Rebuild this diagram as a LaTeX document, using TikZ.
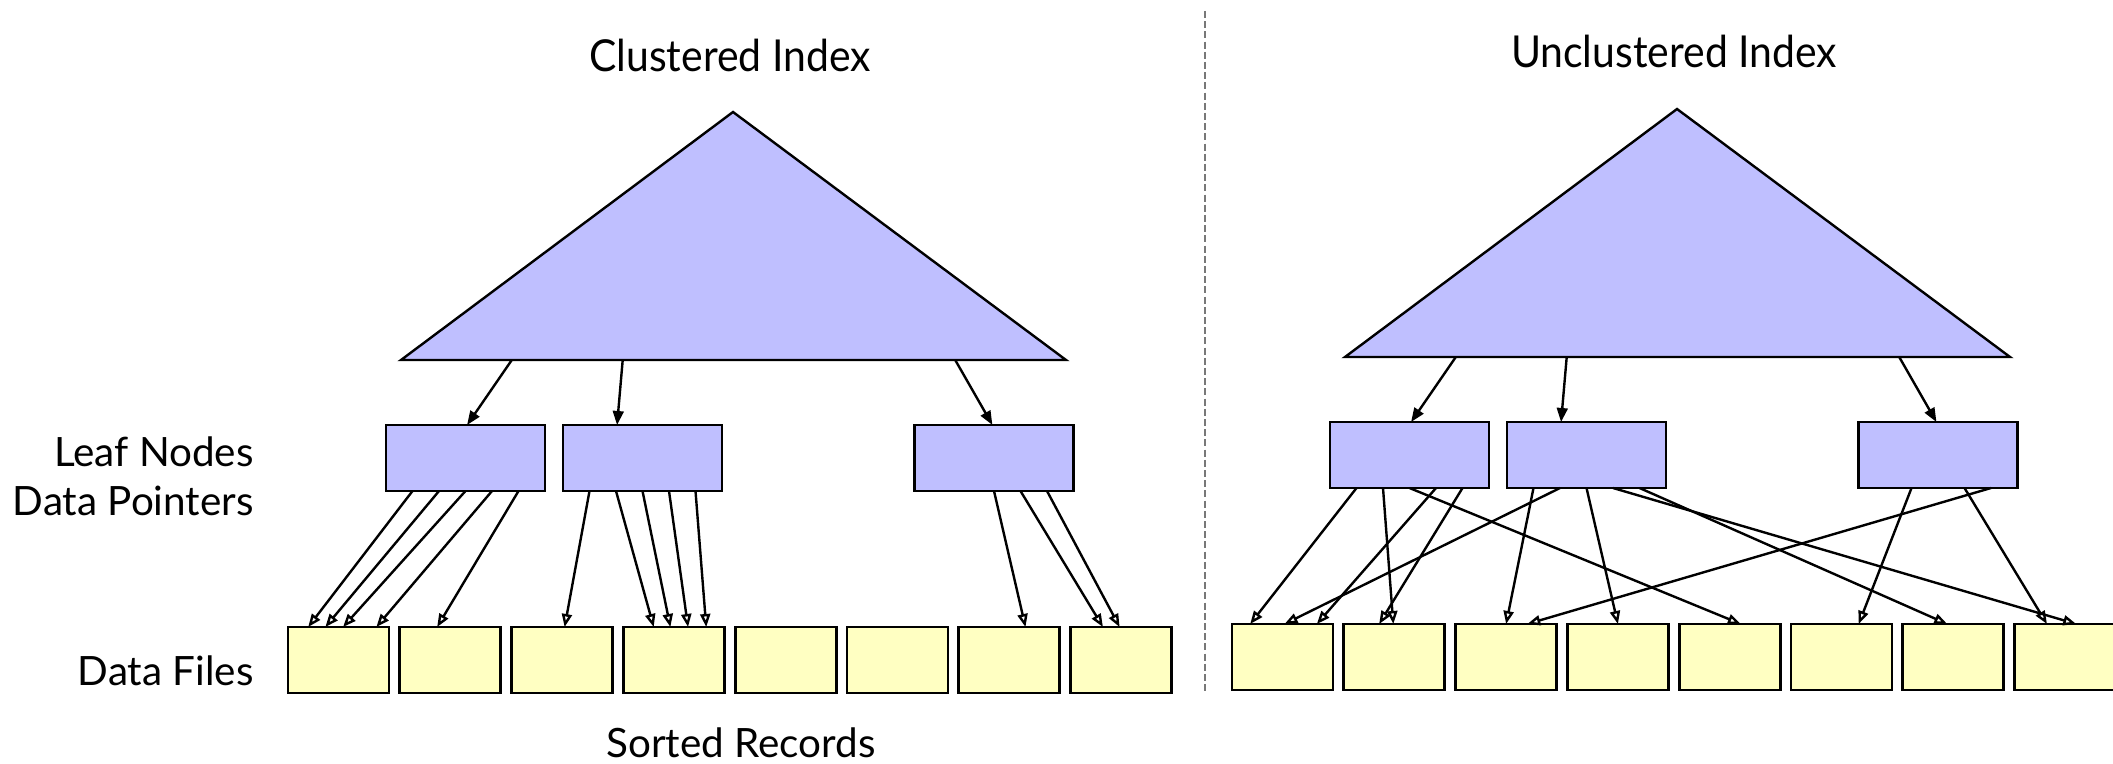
\documentclass[tikz,border=0pt]{standalone}
\usepackage{fontspec}
\setmainfont{Lato}
\usetikzlibrary{arrows.meta,calc}
\definecolor{idxblue}{RGB}{191,191,255}
\definecolor{recyellow}{RGB}{255,255,194}
\definecolor{divgray}{RGB}{120,120,120}

% one index: root triangle, three leaf nodes, eight data pages, root-to-leaf arrows
\newcommand\treehalf[1]{%
  \draw[tri] (733,112) -- (1066,360) -- (401,360) -- cycle;
  \coordinate (#1T1) at (511.8,360);
  \coordinate (#1T2) at (622.7,360);
  \coordinate (#1T3) at (955.2,360);
  \node[leafbox] (#1L1) at (386,425) {};
  \node[leafbox] (#1L2) at (563,425) {};
  \node[leafbox] (#1L3) at (914.5,425) {};
  \foreach \i in {1,...,8}
    \node[recbox] (#1D\i) at ({288+111.8*(\i-1)},627) {};
  \draw[down] (#1T1) -- ($(#1L1.north west)!.51!(#1L1.north east)$);
  \draw[down] (#1T2) -- ($(#1L2.north west)!.34!(#1L2.north east)$);
  \draw[down] (#1T3) -- ($(#1L3.north west)!.49!(#1L3.north east)$);
}
% data pointer: leaf, fraction along its bottom, page, fraction along its top
\newcommand\dptr[4]{%
  \draw[ptr] ($(#1.south west)!#2!(#1.south east)$) -- ($(#3.north west)!#4!(#3.north east)$);}

\begin{document}
\begin{tikzpicture}[x=0.5pt,y=-0.5pt,
  tri/.style={draw, line width=1.2pt, fill=idxblue, line join=miter},
  leafbox/.style={draw, line width=1.4pt, fill=idxblue, anchor=north west,
    minimum width=79.5pt, minimum height=33pt, inner sep=0pt, outer sep=0pt},
  recbox/.style={draw, line width=1.4pt, fill=recyellow, anchor=north west,
    minimum width=50.5pt, minimum height=33pt, inner sep=0pt, outer sep=0pt},
  down/.style={line width=1.2pt, -{Triangle[length=7pt,width=5.4pt]}},
  ptr/.style={line width=1.2pt, -{Triangle[open,length=6.5pt,width=5pt]}},
  lbl/.style={font=\fontsize{20.2}{24}\selectfont, inner sep=0pt},
  ttl/.style={font=\fontsize{22}{26}\selectfont, inner sep=0pt, anchor=base}]

\fill[white] (0,0) rectangle (2113,764);
\useasboundingbox (0,0) rectangle (2113,764);

% divider
\draw[divgray, line width=0.6pt, dash pattern=on 3.5pt off 1.6pt] (1205,11) -- (1205,694);

% clustered index
\node[ttl] (cTitle) at (730,72) {\scalebox{0.93}[1]{Clustered Index}};
\treehalf{c}
\dptr{cL1}{1/6}{cD1}{.20}
\dptr{cL1}{2/6}{cD1}{.37}
\dptr{cL1}{3/6}{cD1}{.545}
\dptr{cL1}{4/6}{cD1}{.875}
\dptr{cL1}{5/6}{cD2}{.37}
\dptr{cL2}{1/6}{cD3}{.525}
\dptr{cL2}{2/6}{cD4}{.30}
\dptr{cL2}{3/6}{cD4}{.465}
\dptr{cL2}{4/6}{cD4}{.64}
\dptr{cL2}{5/6}{cD4}{.82}
\dptr{cL3}{3/6}{cD7}{.66}
\dptr{cL3}{4/6}{cD8}{.32}
\dptr{cL3}{5/6}{cD8}{.485}

% unclustered index
\begin{scope}[shift={(944,-3)}]
  \node[ttl] (uTitle) at (730,71) {\scalebox{0.93}[1]{Unclustered Index}};
  \treehalf{u}
\end{scope}
\dptr{uL1}{1/6}{uD1}{.18}
\dptr{uL1}{2/6}{uD2}{.49}
\dptr{uL1}{3/6}{uD5}{.61}
\dptr{uL1}{4/6}{uD1}{.84}
\dptr{uL1}{5/6}{uD2}{.35}
\dptr{uL2}{1/6}{uD3}{.50}
\dptr{uL2}{2/6}{uD1}{.52}
\dptr{uL2}{3/6}{uD4}{.50}
\dptr{uL2}{4/6}{uD8}{.61}
\dptr{uL2}{5/6}{uD7}{.44}
\dptr{uL3}{2/6}{uD6}{.67}
\dptr{uL3}{4/6}{uD8}{.32}
\dptr{uL3}{5/6}{uD3}{.71}

% level labels
\node[lbl, anchor=base east] (lLeaf) at (254,466) {Leaf Nodes};
\node[lbl, anchor=base east] (lPtr) at (254,515) {Data Pointers};
\node[lbl, anchor=base east] (lFiles) at (254,685) {Data Files};
\node[lbl, anchor=base] (lSorted) at (741,757) {Sorted Records};
\end{tikzpicture}
\end{document}
